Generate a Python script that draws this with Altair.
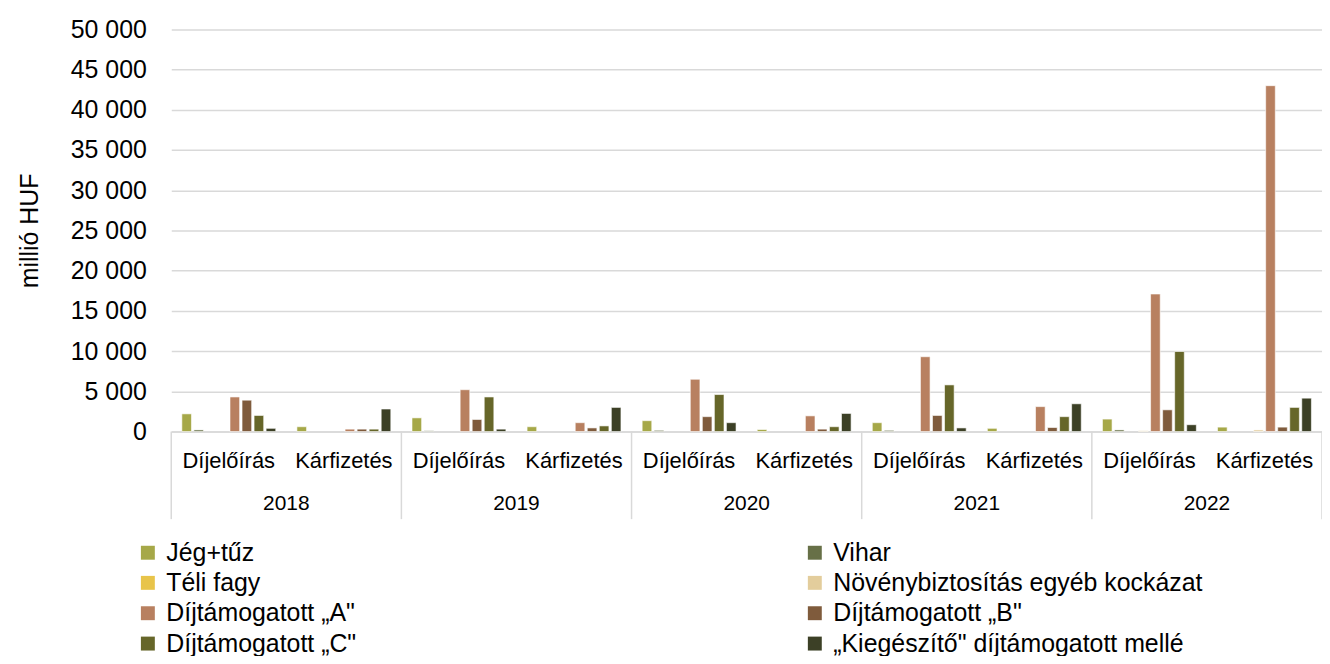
import altair as alt
import pandas as pd

# ---- data ----
years = ["2018", "2019", "2020", "2021", "2022"]
types = ["Díjelőírás", "Kárfizetés"]
series = [
    "Jég+tűz",
    "Vihar",
    "Téli fagy",
    "Növénybiztosítás egyéb kockázat",
    "Díjtámogatott „A\"",
    "Díjtámogatott „B\"",
    "Díjtámogatott „C\"",
    "„Kiegészítő\" díjtámogatott mellé",
]
colors = ["#a6a848", "#677047", "#e8c44a", "#e3cd9c", "#b88060", "#7f5b3c", "#666629", "#3c4026"]

# order: 2018 D, 2018 K, 2019 D, 2019 K, ... 2022 K
jeg_tuz = [2200, 600, 1700, 600, 1350, 250, 1100, 400, 1550, 550]
vihar = [200, 0, 100, 0, 150, 0, 150, 0, 200, 0]
teli_fagy = [0, 0, 0, 0, 0, 0, 0, 0, 0, 0]
noveny_egyeb = [0, 0, 0, 0, 0, 0, 0, 0, 100, 200]
dij_a = [4300, 300, 5200, 1100, 6500, 1950, 9300, 3100, 17100, 43000]
dij_b = [3900, 300, 1500, 450, 1850, 300, 2000, 500, 2700, 550]
dij_c = [2000, 300, 4300, 700, 4600, 600, 5800, 1850, 9950, 3000]
kiegeszito = [400, 2800, 300, 3000, 1100, 2250, 450, 3450, 850, 4150]

yticks = [0, 5000, 10000, 15000, 20000, 25000, 30000, 35000, 40000, 45000, 50000]

values = [jeg_tuz, vihar, teli_fagy, noveny_egyeb, dij_a, dij_b, dij_c, kiegeszito]
keys = [f"{y}|{t}" for y in years for t in types]

rows = []
for s, vals in zip(series, values):
    for k, v in zip(keys, vals):
        if v > 0:
            rows.append({"key": k, "series": s, "value": v})
df = pd.DataFrame(rows)

ydf = pd.DataFrame({"key": [f"{y}|{types[0]}" for y in years], "year": years})
end_df = pd.DataFrame({"key": [keys[-1]]})

FONT = "Liberation Sans"
W, H = 1156, 404
GRID = "#d9d9d9"

xscale = alt.Scale(domain=keys, paddingInner=0, paddingOuter=0)
xaxis = alt.Axis(
    title=None,
    labelExpr="split(datum.value, '|')[1]",
    labelAngle=0,
    ticks=False,
    labelPadding=19,
    labelFontSize=22,
    labelFont=FONT,
    labelColor="black",
    domainColor=GRID,
    domainWidth=1.5,
    grid=False,
)

bars = alt.Chart(df).mark_bar(stroke="white", strokeWidth=0.6).encode(
    x=alt.X("key:N", scale=xscale, sort=keys, axis=xaxis),
    xOffset=alt.XOffset(
        "series:N",
        scale=alt.Scale(domain=series, paddingInner=0.2, paddingOuter=0.88),
        sort=series,
    ),
    y=alt.Y(
        "value:Q",
        scale=alt.Scale(domain=[0, 50000], nice=False),
        axis=alt.Axis(
            values=yticks,
            title="millió HUF",
            labelExpr="replace(format(datum.value, ','), ',', ' ')",
            domain=False,
            ticks=False,
            tickSize=0,
            labelPadding=25,
            labelFontSize=25,
            labelFont=FONT,
            labelColor="black",
            titleFont=FONT,
            titleFontSize=25,
            titleFontWeight="normal",
            titleColor="black",
            titlePadding=28,
            gridColor=GRID,
            gridWidth=1.5,
        ),
    ),
    color=alt.Color(
        "series:N",
        scale=alt.Scale(domain=series, range=colors),
        sort=series,
        legend=alt.Legend(
            title=None,
            orient="none",
            direction="horizontal",
            legendX=-36,
            legendY=513,
            columns=2,
            columnPadding=448,
            rowPadding=4.5,
            symbolType="square",
            symbolSize=196,
            symbolStrokeWidth=0,
            labelFontSize=25,
            labelFont=FONT,
            labelColor="black",
            labelOffset=6,
            labelLimit=600,
            padding=0,
        ),
    ),
)

sep = alt.Chart(ydf).mark_rule(color=GRID, strokeWidth=1.5).encode(
    x=alt.X("key:N", scale=xscale, sort=keys, axis=xaxis, bandPosition=0),
    y=alt.value(H),
    y2=alt.value(H + 88),
)

sep_end = alt.Chart(end_df).mark_rule(color=GRID, strokeWidth=1.5).encode(
    x=alt.X("key:N", scale=xscale, sort=keys, axis=xaxis, bandPosition=1),
    y=alt.value(H),
    y2=alt.value(H + 88),
)

year_text = alt.Chart(ydf).mark_text(
    font=FONT, fontSize=21, color="black", baseline="middle", align="center"
).encode(
    x=alt.X("key:N", scale=xscale, sort=keys, axis=xaxis, bandPosition=1),
    y=alt.value(H + 73),
    text="year:N",
)

chart = (
    alt.layer(bars, sep, sep_end, year_text)
    .properties(
        width=W,
        height=H,
        padding={"left": 164, "top": 20, "right": 0, "bottom": 224},
        autosize=alt.AutoSizeParams(type="none"),
        background="white",
    )
    .configure_view(stroke=None)
)

chart.save("out.html", embed_options={"renderer": "svg", "actions": False})
